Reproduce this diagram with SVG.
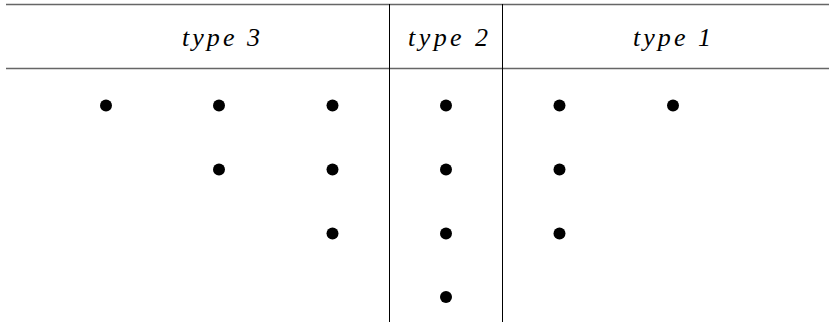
<svg xmlns="http://www.w3.org/2000/svg" width="829" height="322" viewBox="0 0 829 322">
<style>
.rule{stroke:#666;stroke-width:1.6;fill:none}
.vline{stroke:#000;stroke-width:1;fill:none}
.hdr{font-family:"Liberation Serif","DejaVu Serif",serif;font-style:italic;font-size:26px;fill:#000}
.dot{fill:#000}
</style>
<rect width="829" height="322" fill="#fff"/>
<g id="connectors">
<line class="rule" x1="6" y1="4.5" x2="829" y2="4.5"/>
<line class="rule" x1="6" y1="68.5" x2="829" y2="68.5"/>
<line class="vline" x1="389.5" y1="4" x2="389.5" y2="322"/>
<line class="vline" x1="502.5" y1="4" x2="502.5" y2="322"/>
</g>
<g id="headers">
<text class="hdr" x="182" y="46" textLength="78" lengthAdjust="spacing">type 3</text>
<text class="hdr" x="408" y="46" textLength="80" lengthAdjust="spacing">type 2</text>
<text class="hdr" x="633" y="46" textLength="78" lengthAdjust="spacing">type 1</text>
</g>
<g id="type3-dots">
<circle class="dot" cx="106" cy="105.5" r="6"/>
<circle class="dot" cx="219" cy="105.5" r="6"/>
<circle class="dot" cx="332.5" cy="105.5" r="6"/>
<circle class="dot" cx="219" cy="169.5" r="6"/>
<circle class="dot" cx="332.5" cy="169.5" r="6"/>
<circle class="dot" cx="332.5" cy="233.5" r="6"/>
</g>
<g id="type2-dots">
<circle class="dot" cx="446" cy="105.5" r="6"/>
<circle class="dot" cx="446" cy="169.5" r="6"/>
<circle class="dot" cx="446" cy="233.5" r="6"/>
<circle class="dot" cx="446" cy="297" r="6"/>
</g>
<g id="type1-dots">
<circle class="dot" cx="559.5" cy="105.5" r="6"/>
<circle class="dot" cx="673" cy="105.5" r="6"/>
<circle class="dot" cx="559.5" cy="169.5" r="6"/>
<circle class="dot" cx="559.5" cy="233.5" r="6"/>
</g>
</svg>
